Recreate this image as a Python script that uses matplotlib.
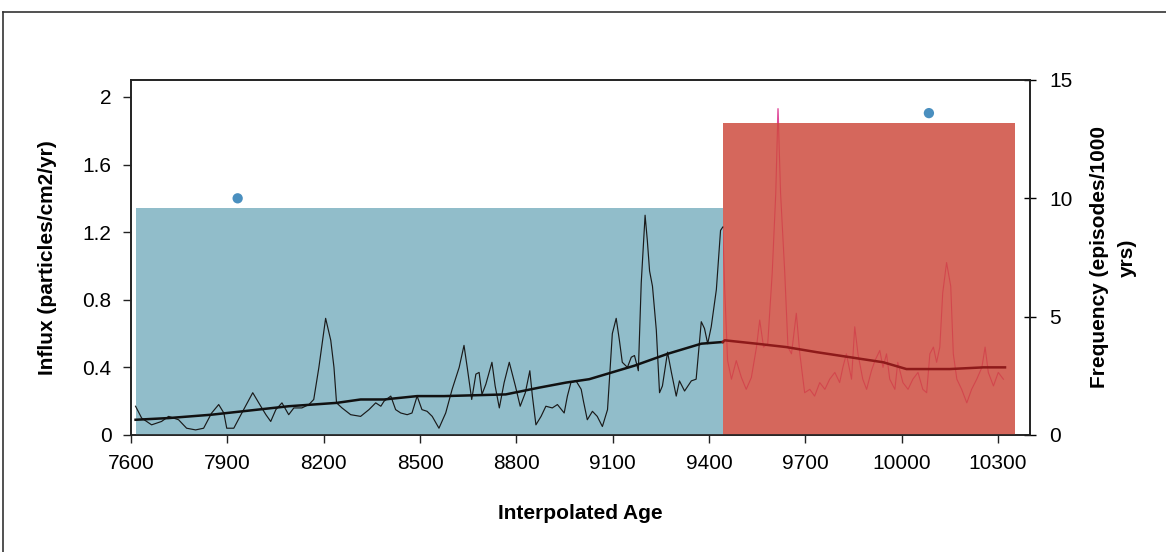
import matplotlib
matplotlib.use("Agg")
import matplotlib.pyplot as plt
from matplotlib.lines import Line2D

plt.rcParams['font.family'] = ['Liberation Sans', 'DejaVu Sans']

# Charcoal influx record (particles/cm2/yr) against interpolated age
influx_ages_early = [7614, 7633, 7664, 7695, 7717, 7748, 7773, 7801, 7826, 7851,
                     7873, 7889, 7898, 7920, 7945, 7979, 8004, 8020, 8035, 8051,
                     8070, 8091, 8107, 8132, 8154, 8169, 8185, 8206, 8222, 8232,
                     8240, 8257, 8284, 8315, 8341, 8362, 8378, 8388, 8409, 8424,
                     8440, 8460, 8475, 8491, 8506, 8522, 8538, 8559, 8580, 8600,
                     8622, 8637, 8647, 8661, 8674, 8684, 8693, 8705, 8724, 8734,
                     8747, 8762, 8778, 8797, 8812, 8828, 8842, 8850, 8861, 8877,
                     8892, 8912, 8928, 8949, 8959, 8970, 8986, 9002, 9009, 9021,
                     9037, 9052, 9068, 9084, 9099, 9111, 9121, 9130, 9146, 9158,
                     9168, 9180, 9189, 9201, 9208, 9215, 9224, 9236, 9246, 9255,
                     9271, 9283, 9298, 9308, 9324, 9345, 9360, 9376, 9386, 9396,
                     9407, 9423, 9436, 9443]
influx_early = [0.17, 0.10, 0.06, 0.08, 0.11, 0.09, 0.04, 0.03, 0.04, 0.13,
                0.18, 0.13, 0.04, 0.04, 0.13, 0.25, 0.17, 0.12, 0.08, 0.15,
                0.19, 0.12, 0.16, 0.16, 0.18, 0.21, 0.40, 0.69, 0.56, 0.40,
                0.19, 0.16, 0.12, 0.11, 0.15, 0.19, 0.17, 0.20, 0.23, 0.15,
                0.13, 0.12, 0.13, 0.23, 0.15, 0.14, 0.11, 0.04, 0.13, 0.27,
                0.40, 0.53, 0.40, 0.21, 0.36, 0.37, 0.24, 0.30, 0.43, 0.29,
                0.16, 0.31, 0.43, 0.29, 0.17, 0.25, 0.38, 0.23, 0.06, 0.11,
                0.17, 0.16, 0.18, 0.13, 0.23, 0.31, 0.32, 0.27, 0.20, 0.09,
                0.14, 0.11, 0.05, 0.15, 0.60, 0.69, 0.56, 0.43, 0.40, 0.46,
                0.47, 0.38, 0.90, 1.30, 1.15, 0.97, 0.88, 0.62, 0.25, 0.29,
                0.49, 0.37, 0.23, 0.32, 0.26, 0.32, 0.33, 0.67, 0.63, 0.54,
                0.64, 0.86, 1.21, 1.23]

influx_ages_late = [9443, 9449, 9458, 9470, 9485, 9501, 9516, 9532, 9548, 9558,
                    9570, 9583, 9597, 9608, 9615, 9623, 9636, 9646, 9657, 9672,
                    9683, 9698, 9714, 9729, 9745, 9761, 9776, 9792, 9807, 9817,
                    9828, 9844, 9854, 9864, 9879, 9891, 9906, 9917, 9932, 9942,
                    9953, 9963, 9979, 9988, 10004, 10020, 10035, 10051, 10066, 10078,
                    10088, 10099, 10109, 10119, 10128, 10140, 10153, 10161, 10172, 10187,
                    10203, 10218, 10234, 10250, 10260, 10270, 10286, 10301, 10317]
influx_late = [1.23, 0.86, 0.44, 0.33, 0.44, 0.34, 0.27, 0.34, 0.52, 0.68,
               0.52, 0.54, 0.96, 1.43, 1.93, 1.43, 0.96, 0.52, 0.48, 0.72,
               0.48, 0.25, 0.27, 0.23, 0.31, 0.27, 0.33, 0.37, 0.31, 0.40,
               0.48, 0.33, 0.64, 0.48, 0.33, 0.27, 0.38, 0.44, 0.50, 0.40,
               0.48, 0.33, 0.27, 0.43, 0.31, 0.27, 0.33, 0.37, 0.27, 0.25,
               0.48, 0.52, 0.43, 0.52, 0.84, 1.02, 0.88, 0.48, 0.33, 0.27,
               0.19, 0.27, 0.33, 0.40, 0.52, 0.37, 0.29, 0.37, 0.33]

# Smoothed background influx
trend_ages_early = [7614, 7717, 7851, 8091, 8241, 8315, 8388, 8491, 8575, 8767,
                    8871, 8955, 9027, 9168, 9271, 9376, 9443]
trend_early = [0.09, 0.10, 0.12, 0.17, 0.19, 0.21, 0.21, 0.23, 0.23, 0.24,
               0.28, 0.31, 0.33, 0.41, 0.48, 0.54, 0.55]
trend_ages_late = [9443, 9449, 9548, 9641, 9735, 9839, 9943, 10015, 10150, 10255, 10322]
trend_late = [0.55, 0.56, 0.54, 0.52, 0.49, 0.46, 0.43, 0.39, 0.39, 0.40, 0.40]

# Fire episode frequency per zone (episodes/1000 yrs)
zone_starts = [7614, 9443]
zone_ends = [9443, 10352]
zone_freq = [9.6, 13.2]
zone_colors = ['#91bdca', '#d5675c']
freq_point_ages = [7932, 10085]
freq_points = [10.0, 13.6]

x_ticks = [7600, 7900, 8200, 8500, 8800, 9100, 9400, 9700, 10000, 10300]
left_ticks = [0, 0.4, 0.8, 1.2, 1.6, 2.0]
left_tick_labels = ['0', '0.4', '0.8', '1.2', '1.6', '2']
right_ticks = [0, 5, 10, 15]

fig = plt.figure(figsize=(11.66, 5.52), dpi=100)
ax = fig.add_axes([0.1124, 0.2120, 0.8834 - 0.1124, 0.8551 - 0.2120])
ax2 = ax.twinx()

ax.set_xlim(7600, 10400)
ax.set_ylim(0, 2.1)
ax2.set_ylim(0, 15)

# Zone bars on the frequency axis
bars = ax2.bar(zone_starts, zone_freq,
               width=[e - s for s, e in zip(zone_starts, zone_ends)],
               align='edge', color=zone_colors, edgecolor='none', zorder=2)

# Influx curve: early part over the blue zone, late part seen through the red zone
ax2.plot(influx_ages_late, influx_late, color='#e04a9a', lw=1.0,
         transform=ax.transData, zorder=1)
late_in = ax2.plot(influx_ages_late, influx_late, color='#d23c48', lw=0.8,
                   alpha=0.75, transform=ax.transData, zorder=3)[0]
late_in.set_clip_path(bars[1])
ax2.plot(influx_ages_early, influx_early, color='#1a1a1a', lw=0.85,
         transform=ax.transData, zorder=4)

ax2.plot(trend_ages_early, trend_early, color='#111111', lw=1.8,
         transform=ax.transData, zorder=5)
ax2.plot(trend_ages_late, trend_late, color='#8e1a1a', lw=1.8,
         transform=ax.transData, zorder=5)

ax2.scatter(freq_point_ages, freq_points, s=55, color='#4a8fbf',
            edgecolor='none', zorder=6)

ax.set_xticks(x_ticks)
ax.set_yticks(left_ticks)
ax.set_yticklabels(left_tick_labels)
ax2.set_yticks(right_ticks)

ax.tick_params(axis='both', labelsize=15, color='#222222', length=6, width=1)
ax.tick_params(axis='x', pad=8)
ax.tick_params(axis='y', pad=8)
ax2.tick_params(axis='y', labelsize=15, direction='inout', length=8, width=1, pad=10)

for a in (ax, ax2):
    for s in a.spines.values():
        s.set_color('#222222')
        s.set_linewidth(1.2)

ax.set_xlabel('Interpolated Age', fontsize=15, fontweight='bold', labelpad=22)
ax.set_ylabel('Influx (particles/cm2/yr)', fontsize=15, fontweight='bold', labelpad=18)
ax2.set_ylabel('Frequency (episodes/1000\nyrs)', fontsize=15, fontweight='bold',
               labelpad=12, linespacing=1.65, ha='center')

# Outer frame of the figure panel
fig.add_artist(Line2D([3 / 1166, 1.0], [1 - 12 / 552, 1 - 12 / 552],
                      transform=fig.transFigure, color='#333333', lw=1.2))
fig.add_artist(Line2D([3 / 1166, 3 / 1166], [0.0, 1 - 12 / 552],
                      transform=fig.transFigure, color='#333333', lw=1.2))

fig.savefig('out.png', dpi=100)
